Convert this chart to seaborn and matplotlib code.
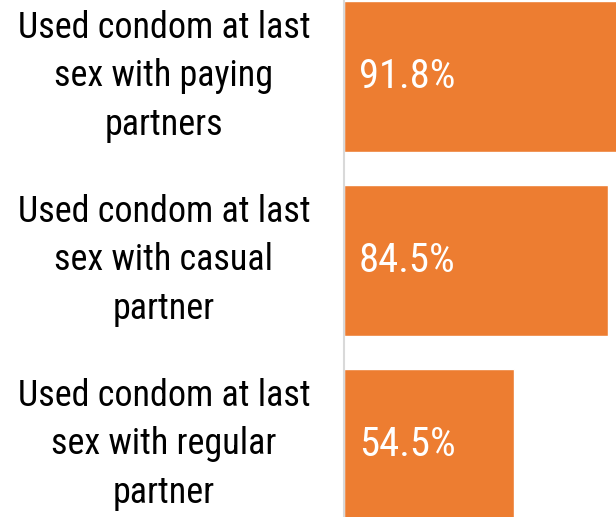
import matplotlib
matplotlib.use("Agg")
import matplotlib.pyplot as plt
import seaborn as sns
import pandas as pd
from matplotlib import font_manager
from matplotlib.font_manager import FontProperties

categories = [
    "Used condom at last\nsex with paying\npartners",
    "Used condom at last\nsex with casual\npartner",
    "Used condom at last\nsex with regular\npartner",
]
values = [91.8, 84.5, 54.5]
value_labels = ["91.8%", "84.5%", "54.5%"]

sns.set_theme(style="white")
plt.rcParams["font.family"] = ["DejaVu Sans"]


def pick_font():  # look for a narrow / condensed regular face
    best = None
    order = ["roboto", "fira", "noto", "open", "liberation", "dejavu", "lato", "inter"]
    for f in font_manager.fontManager.ttflist:
        tag = (f.name + " " + f.fname).lower()
        narrow = ("condensed" in tag or "narrow" in tag or
                  str(f.stretch) in ("condensed", "semi-condensed", "extra-condensed"))
        if not narrow or "extra" in tag or "semi" in tag:
            continue
        if f.style != "normal" or f.weight not in (400, "normal", "regular"):
            continue
        rank = next((i for i, o in enumerate(order) if o in tag), 99)
        if best is None or rank < best[0]:
            best = (rank, f.fname)
    if best:
        return FontProperties(fname=best[1])
    return FontProperties(family="DejaVu Sans")


fp = pick_font()

df = pd.DataFrame({"category": categories, "value": values})

fig = plt.figure(figsize=(6.16, 5.17), dpi=100)
ax = fig.add_axes([344 / 616, 0, 1 - 344 / 616, 1])
sns.barplot(data=df, y="category", x="value", color="#ED7D31", saturation=1,
            width=0.82, ax=ax)

ax.set_xlim(0, 87.2)
ax.set_ylim(2.395, -0.415)
ax.set_xlabel("")
ax.set_ylabel("")
ax.set_xticks([])
ax.set_yticklabels([])
ax.tick_params(axis="y", length=0)
for s in ["top", "right", "bottom"]:
    ax.spines[s].set_visible(False)
ax.spines["left"].set_color("#d9d9d9")
ax.spines["left"].set_linewidth(1.5)

# size text so that its width roughly matches the reference
renderer = fig.canvas.get_renderer()
probe = fig.text(0, 0, "Used condom at last", fontproperties=fp, fontsize=20)
w = probe.get_window_extent(renderer).width
probe.set_text("91.8%")
w2 = probe.get_window_extent(renderer).width
probe.remove()
label_size = 20 * 292 / w
value_size = 20 * 84 / w2 * 1.15

# category labels, centred left of the axis
for i, cat in enumerate(categories):
    ax.annotate(cat, xy=(0, i), xytext=(-180, 0), textcoords="offset pixels",
                ha="center", va="center", multialignment="center", linespacing=1.45,
                color="black", fontproperties=fp, fontsize=label_size,
                annotation_clip=False)

for i, lab in enumerate(value_labels):
    ax.annotate(lab, xy=(0, i), xytext=(15, 0), textcoords="offset pixels",
                ha="left", va="center", color="white", fontproperties=fp, fontsize=value_size)

fig.savefig("out.png", dpi=100)
